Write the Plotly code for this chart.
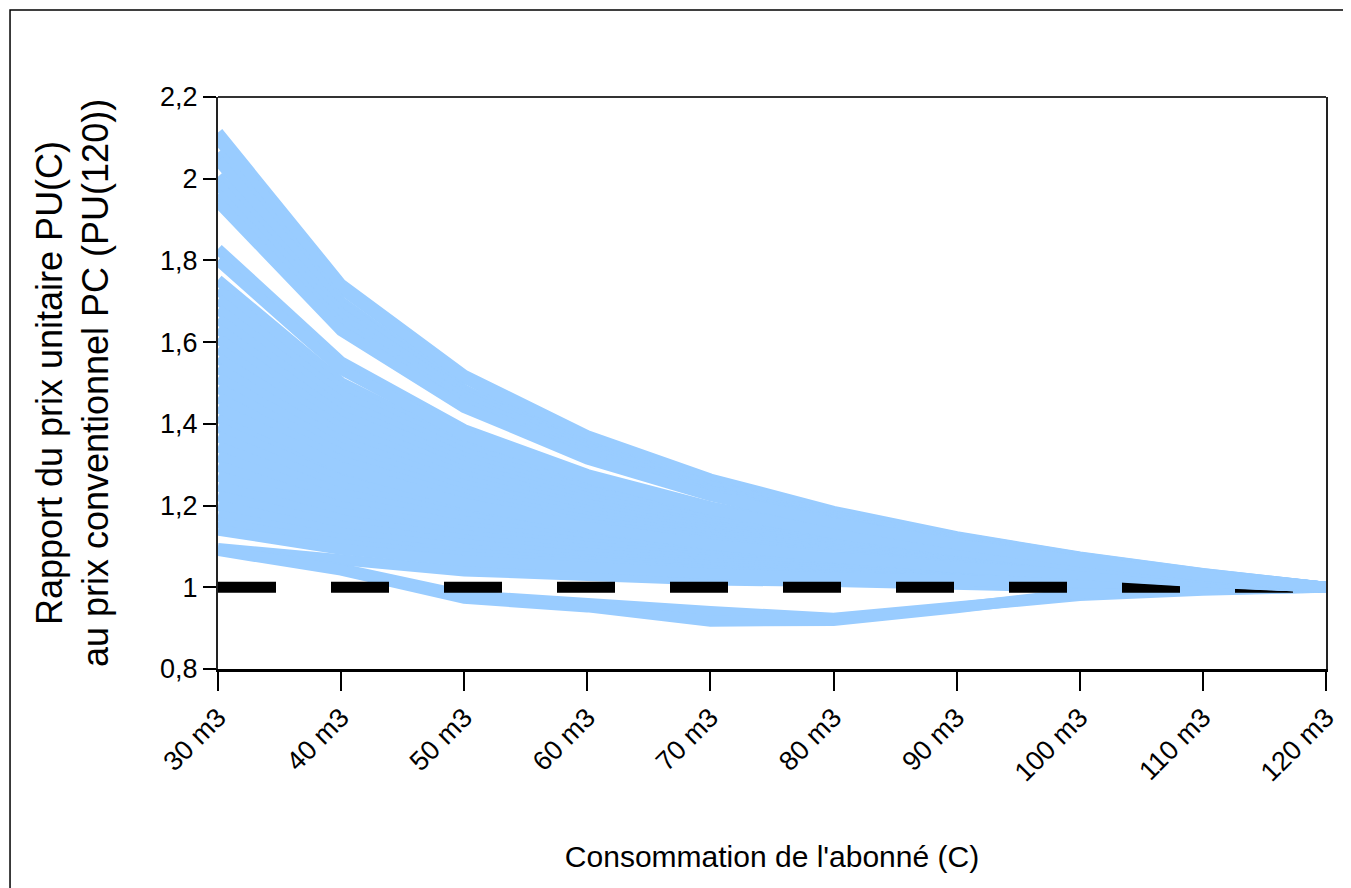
import plotly.graph_objects as go

consumption = ["30 m3", "40 m3", "50 m3", "60 m3", "70 m3",
               "80 m3", "90 m3", "100 m3", "110 m3", "120 m3"]

# services with the steepest fixed part
top_lines = [
    [2.113, 1.742, 1.519, 1.371, 1.265, 1.186, 1.124, 1.074, 1.034, 1.0],
    [2.097, 1.731, 1.512, 1.366, 1.261, 1.183, 1.122, 1.073, 1.033, 1.0],
    [2.064, 1.698, 1.483, 1.345, 1.250, 1.175, 1.117, 1.070, 1.031, 1.0],
    [2.045, 1.688, 1.476, 1.340, 1.247, 1.172, 1.116, 1.070, 1.032, 1.0],
    [2.005, 1.670, 1.469, 1.335, 1.239, 1.168, 1.112, 1.067, 1.030, 1.0],
    [1.985, 1.657, 1.460, 1.328, 1.235, 1.164, 1.109, 1.066, 1.030, 1.0],
    [1.962, 1.641, 1.449, 1.321, 1.229, 1.160, 1.107, 1.064, 1.029, 1.0],
    [1.942, 1.628, 1.440, 1.314, 1.224, 1.157, 1.105, 1.063, 1.029, 1.0],
]

second_lines = [
    [1.828, 1.552, 1.386, 1.276, 1.197, 1.138, 1.092, 1.055, 1.025, 1.0],
    [1.800, 1.533, 1.373, 1.267, 1.190, 1.133, 1.089, 1.053, 1.024, 1.0],
]

mass_upper = [
    [1.752, 1.501, 1.351, 1.251, 1.179, 1.125, 1.084, 1.050, 1.023, 1.0],
    [1.728, 1.485, 1.340, 1.243, 1.173, 1.121, 1.081, 1.049, 1.022, 1.0],
    [1.704, 1.469, 1.329, 1.235, 1.168, 1.117, 1.078, 1.047, 1.021, 1.0],
    [1.680, 1.453, 1.317, 1.227, 1.162, 1.113, 1.076, 1.045, 1.021, 1.0],
    [1.656, 1.437, 1.306, 1.219, 1.156, 1.109, 1.073, 1.044, 1.020, 1.0],
    [1.632, 1.421, 1.295, 1.211, 1.150, 1.105, 1.070, 1.042, 1.019, 1.0],
    [1.608, 1.405, 1.284, 1.203, 1.145, 1.101, 1.068, 1.041, 1.018, 1.0],
    [1.584, 1.389, 1.273, 1.195, 1.139, 1.097, 1.065, 1.039, 1.018, 1.0],
    [1.560, 1.373, 1.261, 1.187, 1.133, 1.093, 1.062, 1.037, 1.017, 1.0],
    [1.536, 1.357, 1.250, 1.179, 1.128, 1.089, 1.060, 1.036, 1.016, 1.0],
    [1.512, 1.341, 1.239, 1.171, 1.122, 1.085, 1.057, 1.034, 1.016, 1.0],
    [1.488, 1.325, 1.228, 1.163, 1.116, 1.081, 1.054, 1.033, 1.015, 1.0],
    [1.464, 1.309, 1.217, 1.155, 1.110, 1.077, 1.052, 1.031, 1.014, 1.0],
    [1.440, 1.293, 1.205, 1.147, 1.105, 1.073, 1.049, 1.029, 1.013, 1.0],
]

mass_lower = [
    [1.416, 1.277, 1.194, 1.139, 1.099, 1.069, 1.046, 1.028, 1.013, 1.0],
    [1.392, 1.261, 1.183, 1.131, 1.093, 1.065, 1.044, 1.026, 1.012, 1.0],
    [1.368, 1.245, 1.172, 1.123, 1.088, 1.061, 1.041, 1.025, 1.011, 1.0],
    [1.344, 1.229, 1.161, 1.115, 1.082, 1.057, 1.038, 1.023, 1.010, 1.0],
    [1.320, 1.213, 1.149, 1.107, 1.076, 1.053, 1.036, 1.021, 1.010, 1.0],
    [1.296, 1.197, 1.138, 1.099, 1.070, 1.049, 1.033, 1.020, 1.009, 1.0],
    [1.272, 1.181, 1.127, 1.091, 1.065, 1.045, 1.030, 1.018, 1.008, 1.0],
    [1.248, 1.165, 1.116, 1.083, 1.059, 1.041, 1.028, 1.017, 1.008, 1.0],
    [1.224, 1.149, 1.105, 1.075, 1.053, 1.037, 1.025, 1.015, 1.007, 1.0],
    [1.200, 1.133, 1.093, 1.067, 1.048, 1.033, 1.022, 1.013, 1.006, 1.0],
    [1.176, 1.117, 1.082, 1.059, 1.042, 1.029, 1.020, 1.012, 1.005, 1.0],
    [1.158, 1.105, 1.074, 1.053, 1.038, 1.026, 1.018, 1.011, 1.005, 1.0],
    [1.140, 1.093, 1.065, 1.047, 1.033, 1.023, 1.016, 1.009, 1.004, 1.0],
]

# tariffs that end up below the conventional price
low_lines = [
    [1.095, 1.066, 1.040, 1.029, 1.018, 1.014, 1.005, 1.000, 1.000, 1.0],
    [1.092, 1.045, 0.980, 0.958, 0.941, 0.924, 0.952, 0.980, 0.993, 1.0],
    [1.090, 1.042, 0.973, 0.952, 0.917, 0.919, 0.950, 0.985, 0.995, 1.0],
]

reference_ratio = [1.0] * len(consumption)

BLUE = "#99CCFF"
FONT = "Liberation Sans, Arial, sans-serif"

fig = go.Figure()


def add_lines(rows):
    for row in rows:
        fig.add_trace(go.Scatter(
            x=consumption, y=row, mode="lines",
            line=dict(color=BLUE, width=11),
            hoverinfo="skip", showlegend=False,
        ))


add_lines(low_lines)
add_lines(mass_lower)

fig.add_trace(go.Scatter(
    x=consumption, y=reference_ratio, mode="lines",
    line=dict(color="black", width=11, dash="58px,55px"),
    hoverinfo="skip", showlegend=False,
))

add_lines(mass_upper)
add_lines(second_lines)
add_lines(top_lines)

# page body adds 8px, so the figure is 8px smaller than the window
fig.update_layout(
    width=1343, height=880,
    margin=dict(l=210, r=25, t=89, b=219),
    paper_bgcolor="white", plot_bgcolor="white",
    separators=",.",
    font=dict(family=FONT, color="black", size=27),
    showlegend=False,
    shapes=[
        # outer frame of the picture
        dict(type="rect", xref="paper", yref="paper",
             x0=-0.1877, x1=1.1, y0=-0.6, y1=1.1521,
             line=dict(color="black", width=1.5), layer="below"),
        # top edge of the plot box
        dict(type="line", xref="paper", yref="paper",
             x0=0, x1=1, y0=1, y1=1,
             line=dict(color="#333333", width=2)),
    ],
)

fig.update_xaxes(
    type="category", categoryorder="array", categoryarray=consumption,
    range=[0, 9], showgrid=False, zeroline=False,
    showline=True, linecolor="black", linewidth=3,
    ticks="outside", ticklen=19, tickwidth=1.5, tickcolor="black",
    tickangle=-45, tickfont=dict(size=27),
    title=dict(text="Consommation de l'abonné (C)", font=dict(size=30), standoff=60),
    automargin=False,
)

fig.update_yaxes(
    range=[0.8, 2.2], tick0=0.8, dtick=0.2, showgrid=False, zeroline=False,
    showline=True, linecolor="#222222", linewidth=2, mirror=True,
    ticks="outside", ticklen=13, tickwidth=1.5, tickcolor="black",
    tickfont=dict(size=27),
    title=dict(text="Rapport du prix unitaire PU(C)<br>au prix conventionnel PC (PU(120))",
               font=dict(size=36), standoff=40),
    automargin=False,
)

fig.write_html("out.html")
